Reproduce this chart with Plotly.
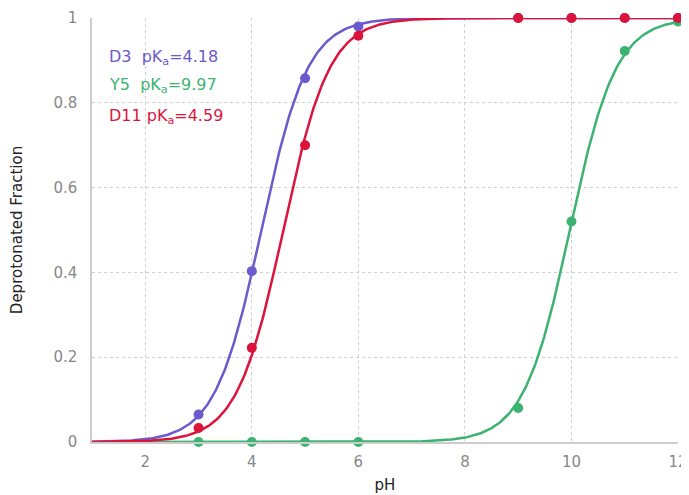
import numpy as np
import plotly.graph_objects as go

# ---- data ----
names = ["D3", "Y5", "D11"]
pka_values = [4.18, 9.97, 4.59]
colors = ["#6a5acd", "#3cb371", "#dc143c"]

ph_points = [3, 4, 5, 6, 9, 10, 11, 12]
d3_frac = [0.065, 0.403, 0.858, 0.98, 1.0, 1.0, 1.0, 1.0]
y5_frac = [0.0, 0.0, 0.0, 0.0, 0.08, 0.52, 0.922, 0.992]
d11_frac = [0.033, 0.222, 0.70, 0.958, 1.0, 1.0, 1.0, 1.0]
point_series = [d3_frac, y5_frac, d11_frac]

x_ticks = [2, 4, 6, 8, 10, 12]
y_ticks = [0, 0.2, 0.4, 0.6, 0.8, 1]
y_tick_text = ["0", "0.2", "0.4", "0.6", "0.8", "1"]

FONT = "DejaVu Sans, Verdana, sans-serif"

fig = go.Figure()
ph_fit = np.linspace(1, 12, 400)
for name, pka, col, ys in zip(names, pka_values, colors, point_series):
    # Henderson–Hasselbalch fit for the stated pKa
    fit = 1.0 / (1.0 + 10 ** (pka - ph_fit))
    fig.add_trace(go.Scatter(x=ph_fit, y=fit, mode="lines",
                             line=dict(color=col, width=2.5),
                             hoverinfo="skip", showlegend=False,
                             cliponaxis=False))
    fig.add_trace(go.Scatter(x=ph_points, y=ys, mode="markers",
                             marker=dict(color=col, size=10),
                             name=name, showlegend=False, cliponaxis=False))

label_y = [0.908, 0.84, 0.768]
for name, pka, col, ly in zip(names, pka_values, colors, label_y):
    sep = "&nbsp;&nbsp;" if len(name) == 2 else "&nbsp;"
    fig.add_annotation(x=0.026, y=ly, xref="paper", yref="paper",
                       xanchor="left", yanchor="middle", showarrow=False,
                       text=f"{name}{sep}pK<sub>a</sub>={pka:.2f}",
                       font=dict(family=FONT, size=16, color=col))

# the page body adds an 8px offset, so the figure is sized to fill the rest
fig.update_layout(
    width=681, height=487,
    margin=dict(l=84, r=11, t=10, b=53),
    plot_bgcolor="white", paper_bgcolor="white",
    font=dict(family=FONT, size=15, color="#888888"),
    xaxis=dict(range=[1, 12], tickvals=x_ticks, showgrid=True,
               gridcolor="#cfcfcf", griddash="dot", gridwidth=1,
               showline=True, linecolor="#cccccc", linewidth=1.5,
               zeroline=False, ticks="", automargin=False,
               ticklabelstandoff=5,
               title=dict(text="pH", font=dict(family=FONT, size=15, color="#222222"),
                          standoff=10),
               tickfont=dict(size=15, color="#888888")),
    yaxis=dict(range=[0, 1], tickvals=y_ticks, ticktext=y_tick_text,
               showgrid=True, gridcolor="#cfcfcf", griddash="dot", gridwidth=1,
               showline=True, linecolor="#cccccc", linewidth=1.5,
               zeroline=False, ticks="", automargin=False,
               ticklabelstandoff=10,
               title=dict(text="Deprotonated Fraction",
                          font=dict(family=FONT, size=15, color="#222222"),
                          standoff=28),
               tickfont=dict(size=15, color="#888888")),
)

fig.write_html("out.html")
